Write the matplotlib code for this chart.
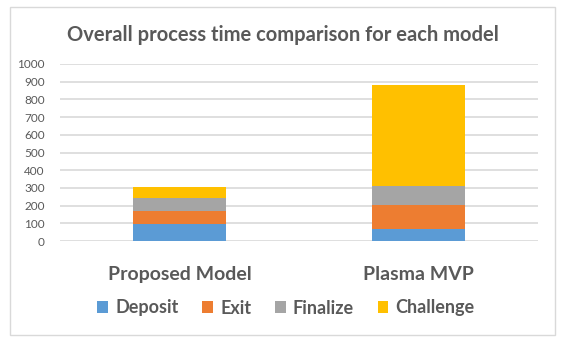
import numpy as np
import matplotlib.pyplot as plt
from matplotlib.patches import Rectangle

models = ["Proposed Model", "Plasma MVP"]
stages = ["Deposit", "Exit", "Finalize", "Challenge"]
deposit = [95, 68]
exit_ = [75, 138]
finalize = [75, 104]
challenge = [60, 570]
colors = ["#5B9BD5", "#ED7D31", "#A5A5A5", "#FFC000"]

plt.rcParams['font.family'] = ['Lato', 'DejaVu Sans']
text_col = "#595959"

fig = plt.figure(figsize=(5.65, 3.46), dpi=100)
fig.patch.set_facecolor("white")

# chart border
fig.add_artist(Rectangle((10 / 565, 1 - 335 / 346), 545 / 565, 328 / 346,
                         transform=fig.transFigure, fill=False,
                         edgecolor="#d9d9d9", linewidth=1))

ax = fig.add_axes([60 / 565, 1 - 241 / 346, 478 / 565, 177 / 346])

x = np.arange(len(models))
bottom = np.zeros(len(models))
for name, vals, c in zip(stages, [deposit, exit_, finalize, challenge], colors):
    ax.bar(x, vals, width=0.39, bottom=bottom, color=c, label=name, zorder=3)
    bottom += np.array(vals)

ax.set_xlim(-0.5, 1.5)
ax.set_ylim(0, 1000)
ax.set_yticks(np.arange(0, 1001, 100))
ax.yaxis.grid(True, color="#d9d9d9", linewidth=1.2, zorder=0)
for s in ax.spines.values():
    s.set_visible(False)
ax.tick_params(axis="y", length=0, pad=11, labelsize=8.5, labelcolor=text_col)
ax.set_xticks(x)
ax.set_xticklabels(models, fontsize=14, fontweight="bold", color=text_col)
ax.tick_params(axis="x", length=0, pad=18)

fig.text(283 / 565, 1 - 35 / 346, "Overall process time comparison for each model",
         ha="center", va="center", fontsize=14.5, fontweight="bold", color=text_col)

fig.legend(loc="center", bbox_to_anchor=(286 / 565, 1 - 308 / 346), ncol=4,
           frameon=False, handlelength=0.6, handleheight=0.6, handletextpad=0.4,
           columnspacing=1.3,
           prop={"size": 13, "weight": "bold"}, labelcolor=text_col)

plt.savefig("out.png", dpi=100)
plt.close()
